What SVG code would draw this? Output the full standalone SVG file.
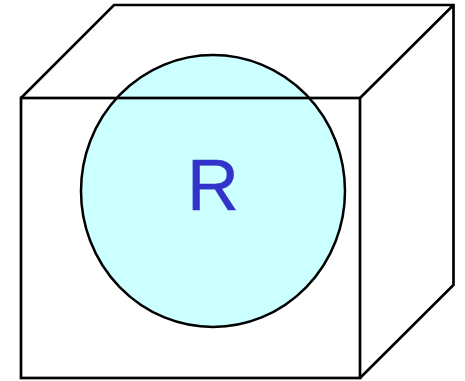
<svg xmlns="http://www.w3.org/2000/svg" width="465" height="381" viewBox="0 0 465 381">
<style>
.l{fill:none;stroke:#000;stroke-width:2.7;stroke-linejoin:miter}
.t{font-family:"Liberation Sans",Arial,sans-serif;font-size:72px;fill:#3333cc;stroke:#3333cc;stroke-width:0.4;text-anchor:middle}
</style>
<rect width="465" height="381" fill="#fff"/>
<g id="cube-back"><path class="l" d="M21 98L114 5H453.5V285L360 378M360 98L453.5 5"/></g>
<g id="sphere"><ellipse cx="213" cy="191" rx="132" ry="136" fill="#ccffff" stroke="#000" stroke-width="2.5"/><text class="t" x="213" y="210">R</text></g>
<g id="cube-front"><rect class="l" x="21" y="98" width="339" height="280"/></g>
</svg>
